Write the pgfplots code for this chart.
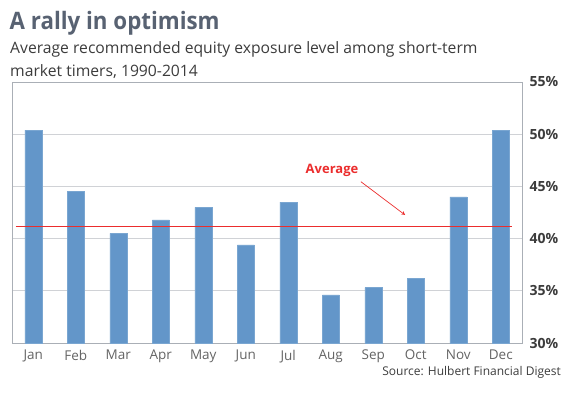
\documentclass[border=0pt]{standalone}
\usepackage{pgfplots}
\pgfplotsset{compat=1.18}
\usepackage{fontspec}
\setmainfont{Open Sans}
\definecolor{barblue}{RGB}{99,150,201}
\definecolor{titlegray}{RGB}{88,98,114}
\definecolor{subgray}{RGB}{60,60,60}
\definecolor{gridgray}{RGB}{208,210,214}
\definecolor{boxgray}{RGB}{170,175,182}
\definecolor{labgray}{RGB}{100,100,100}
\definecolor{avgred}{RGB}{235,45,45}
\begin{document}
\begin{tikzpicture}[x=1pt,y=1pt]
\path (0,0) rectangle (569,398);
\node[anchor=base west,inner sep=0pt,text=titlegray] at (9.5,368) {\scalebox{0.93}[1]{\fontsize{24}{28}\selectfont\bfseries A rally in optimism}};
\node[anchor=base west,inner sep=0pt,text=subgray,font=\fontsize{15.7}{18}\selectfont] at (10,344) {Average recommended equity exposure level among short-term};
\node[anchor=base west,inner sep=0pt,text=subgray,font=\fontsize{15.7}{18}\selectfont] at (10,321) {market timers, 1990-2014};
\begin{axis}[
  at={(12pt,55pt)}, anchor=south west,
  scale only axis, width=510pt, height=261pt,
  xmin=-0.5, xmax=11.5, ymin=30, ymax=55,
  axis line style={boxgray},
  ytick={30,35,40,45,50,55},
  yticklabel pos=right,
  yticklabel={\pgfmathprintnumber{\tick}\%},
  yticklabel style={font=\fontsize{14}{16}\selectfont\bfseries, text=subgray, xshift=4pt},
  /pgf/number format/assume math mode=true,
  xtick={0,...,11},
  xticklabels={Jan,Feb,Mar,Apr,May,Jun,Jul,Aug,Sep,Oct,Nov,Dec},
  xticklabel style={font=\fontsize{13.5}{16}\selectfont, text=labgray, yshift=-3.5pt},
  major tick length=0pt,
  ymajorgrids, grid style={gridgray, line width=0.8pt},
  clip=false,
]
\addplot[ybar, bar width=17pt, bar shift=0pt, fill=barblue, draw=barblue!85!white] coordinates {
(0,50.4) (1,44.5) (2,40.5) (3,41.8) (4,43.0) (5,39.4) (6,43.5) (7,34.6) (8,35.3) (9,36.2) (10,44.0) (11,50.4)};
\addplot[avgred, line width=0.9pt] coordinates {(-0.41,41.2) (11.26,41.2)};
\node[text=avgred, font=\fontsize{13}{15}\selectfont\bfseries] at (axis cs:7.03,46.5) {Average};
\draw[-stealth, avgred, line width=0.7pt] (axis cs:7.71,45.45) -- (axis cs:8.75,42.26);
\end{axis}
\node[anchor=base east,inner sep=0pt,text=subgray,font=\fontsize{12}{14}\selectfont] at (561,22.5) {Source: Hulbert Financial Digest};
\end{tikzpicture}
\end{document}
